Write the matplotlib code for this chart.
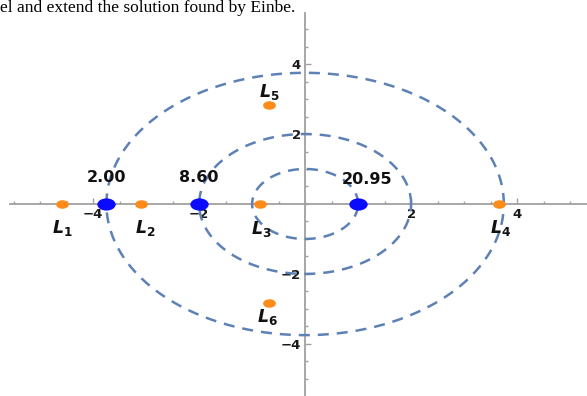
import numpy as np
import matplotlib
matplotlib.use("Agg")
import matplotlib.pyplot as plt
from matplotlib.path import Path
from matplotlib.transforms import Affine2D
from matplotlib.ticker import MultipleLocator, FixedLocator

# ---- data ----
radii = [1.0, 2.0, 3.75]
blue_x = [-3.75, -2.0, 1.0]
blue_labels = ["2.00", "8.60", "20.95"]
orange_x = [-4.58, -3.09, -0.85, 3.66, -0.68, -0.68]
orange_y = [0.0, 0.0, 0.0, 0.0, 2.82, -2.82]
orange_names = ["1", "2", "3", "4", "5", "6"]
xtick_vals = [-4, -2, 2, 4]
ytick_vals = [-4, -2, 2, 4]

# ---- style ----
plt.rcParams["mathtext.fontset"] = "custom"
plt.rcParams["mathtext.it"] = "DejaVu Sans:italic:bold"
plt.rcParams["mathtext.rm"] = "DejaVu Sans:bold"
plt.rcParams["mathtext.bf"] = "DejaVu Sans:bold"

W, H = 587, 396
fig = plt.figure(figsize=(W / 100, H / 100), dpi=100)
fig.patch.set_facecolor("white")

x0, x1 = -5.57, 5.32
y0, y1 = -5.49, 5.46
ax = fig.add_axes([10 / W, 0 / H, 577 / W, 383 / H])
ax.set_xlim(x0, x1)
ax.set_ylim(y0, y1)
ax.set_aspect("auto")

axis_col = "#a0a0a0"
for s in ("top", "right"):
    ax.spines[s].set_visible(False)
for s in ("left", "bottom"):
    ax.spines[s].set_position("zero")
    ax.spines[s].set_color(axis_col)
    ax.spines[s].set_linewidth(1.3)

ax.xaxis.set_major_locator(FixedLocator(xtick_vals))
ax.yaxis.set_major_locator(FixedLocator(ytick_vals))
ax.xaxis.set_minor_locator(MultipleLocator(0.5))
ax.yaxis.set_minor_locator(MultipleLocator(0.5))
ax.set_xticklabels([f"\u2212{abs(v)}" if v < 0 else str(v) for v in xtick_vals])
ax.set_yticklabels([f"\u2212{abs(v)}" if v < 0 else str(v) for v in ytick_vals])
ax.tick_params(which="both", direction="in", color=axis_col, width=1.0)
ax.tick_params(which="major", length=4.0, labelsize=9.5, pad=3)
ax.tick_params(which="minor", length=2.2)
for lab in ax.get_xticklabels() + ax.get_yticklabels():
    lab.set_fontweight("bold")
    lab.set_color("#1a1a1a")

# dashed circles
t = np.linspace(0, 2 * np.pi, 400)
for r in radii:
    ax.plot(r * np.cos(t), r * np.sin(t), color="#5e81b5", lw=1.8,
            linestyle=(0, (4.4, 3.2)), zorder=3)

# horizontally stretched dot marker
ell = Path.unit_circle().transformed(Affine2D().scale(1.5, 1.0))

ax.plot(orange_x, orange_y, linestyle="none", marker=ell, markersize=9.2,
        color="#ff8c1a", markeredgewidth=0, zorder=4)
ax.plot(blue_x, [0] * len(blue_x), linestyle="none", marker=ell, markersize=13.2,
        color="#0a0aff", markeredgewidth=0, zorder=5)

# value labels above blue points
blue_dx = [0, 0, 9]
blue_dy = [26, 26, 24]
for bx, lab, dx, dy in zip(blue_x, blue_labels, blue_dx, blue_dy):
    ax.annotate(lab, (bx, 0), xytext=(dx, dy), textcoords="offset pixels",
                ha="center", va="center", fontsize=11.5, fontweight="bold",
                family="DejaVu Sans", color="#111111", zorder=6)

# L-point names
name_dy = [-24, -24, -25, -24, 13, -14]
name_dx = [0, 4, 1, 1, 0, -2]
for ox, oy, nm, dx, dy in zip(orange_x, orange_y, orange_names, name_dx, name_dy):
    ax.annotate(rf"$L_{{{nm}}}$", (ox, oy), xytext=(dx, dy),
                textcoords="offset pixels", ha="center", va="center",
                fontsize=12.5, color="#111111", zorder=6)

# running text above the figure
fig.text(0.0, 1 - 12 / H, "el and extend the solution found by Einbe.",
         family="Liberation Serif", fontsize=12.5, va="baseline", ha="left",
         color="black")

fig.savefig("out.png", dpi=100)
